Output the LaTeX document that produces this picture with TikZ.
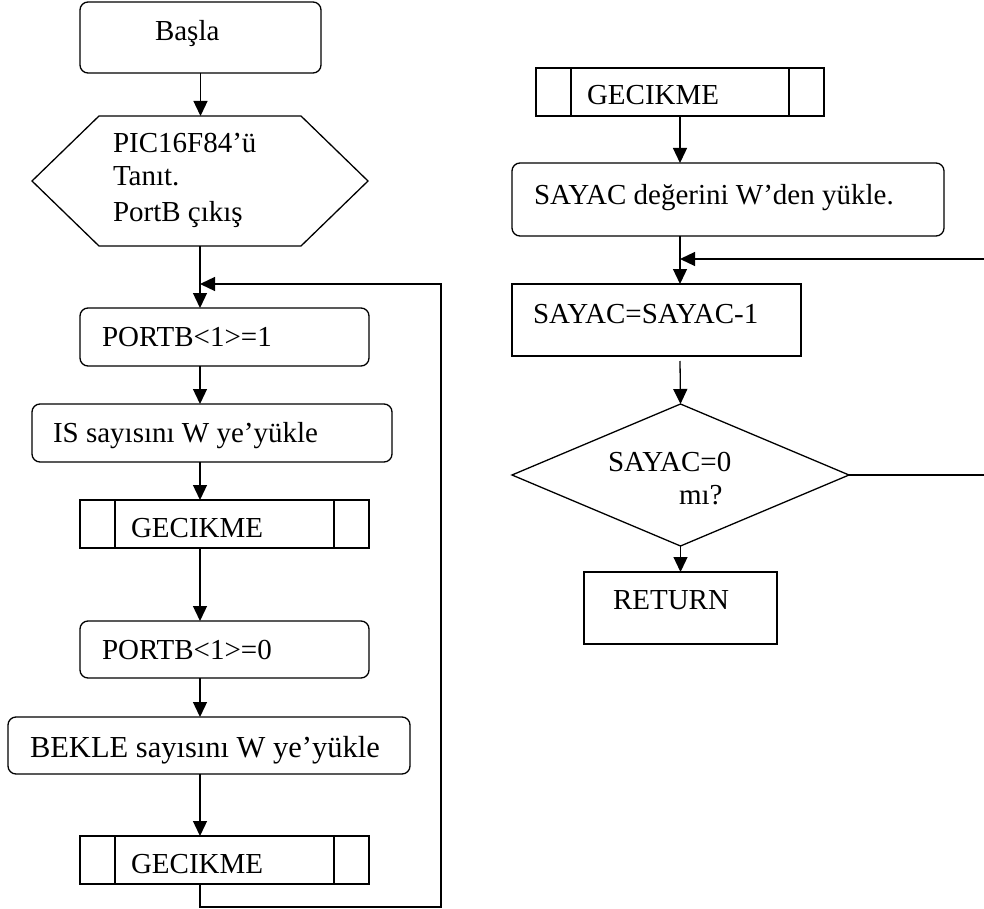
\documentclass[tikz,border=0pt]{standalone}
\usepackage{fontspec}
\setmainfont{Liberation Serif}
\usetikzlibrary{arrows.meta,shapes.geometric}
\begin{document}
\begin{tikzpicture}[x=1pt,y=-1pt,
  line width=1.3pt,
  every node/.style={inner sep=0pt, outer sep=0pt},
  rbox/.style={draw, rectangle, rounded corners=8pt},
  sbox/.style={draw, rectangle},
  lbl/.style={anchor=base west, font=\fontsize{29}{34}\selectfont},
  arr/.style={-{Triangle[length=15pt,width=14pt]}}
]
\useasboundingbox (0,0) rectangle (984,909);

% ---------- main program ----------
\node[rbox, minimum width=241pt, minimum height=71pt] (basla) at (200.5,37.5) {};
\node[minimum width=336pt, minimum height=130pt] (hex) at (200,181) {};
\draw (hex.west) -- ([xshift=67pt]hex.north west) -- ([xshift=-67pt]hex.north east)
  -- (hex.east) -- ([xshift=-67pt]hex.south east) -- ([xshift=67pt]hex.south west) -- cycle;
\node[rbox, minimum width=289pt, minimum height=58pt] (p1) at (224.5,337) {};
\node[rbox, minimum width=360pt, minimum height=58pt] (is) at (212,433) {};
\node[sbox, minimum width=289pt, minimum height=48pt] (g1) at (224.5,524) {};
\node[rbox, minimum width=289pt, minimum height=57pt] (p0) at (224.5,649.5) {};
\node[rbox, minimum width=402pt, minimum height=57pt] (bekle) at (209,745.5) {};
\node[sbox, minimum width=289pt, minimum height=48pt] (g2) at (224.5,860) {};

% ---------- delay subroutine ----------
\node[sbox, minimum width=288pt, minimum height=48pt] (g3) at (680,92) {};
\node[rbox, minimum width=432pt, minimum height=73pt] (sayac) at (728,199.5) {};
\node[sbox, minimum width=289pt, minimum height=72pt] (dec) at (656.5,320) {};
\node[draw, diamond, minimum width=337pt, minimum height=142pt] (dia) at (680.5,475) {};
\node[sbox, minimum width=193pt, minimum height=72pt] (ret) at (680.5,608) {};

% side bars of the subroutine boxes
\foreach \g in {g1,g2,g3}{
  \draw ([xshift=35pt]\g.north west) -- ([xshift=35pt]\g.south west);
  \draw ([xshift=-35pt]\g.north east) -- ([xshift=-35pt]\g.south east);
}

% ---------- labels ----------
\node[lbl] (tb) at (155,41) {Başla};
\node[lbl] (th1) at (113,153) {PIC16F84’ü};
\node[lbl] (th2) at (113,186) {Tanıt.};
\node[lbl] (th3) at (113,222) {PortB çıkış};
\node[lbl] (tp1) at (102,346) {PORTB<1>=1};
\node[lbl] (tis) at (53,442) {IS sayısını W ye’yükle};
\node[lbl] (tg1) at (131,537) {GECIKME};
\node[lbl] (tp0) at (102,659) {PORTB<1>=0};
\node[lbl, font=\fontsize{30.5}{35}\selectfont] (tbk) at (30,757) {BEKLE sayısını W ye’yükle};
\node[lbl] (tg2) at (131,873) {GECIKME};
\node[lbl] (tg3) at (587,105) {GECIKME};
\node[lbl] (ts) at (534,205) {SAYAC değerini W’den yükle.};
\node[lbl] (td) at (533,323) {SAYAC=SAYAC-1};
\node[lbl] (tq1) at (608,471) {SAYAC=0};
\node[lbl] (tq2) at (679,504) {mı?};
\node[lbl] (tr) at (613,609) {RETURN};

% ---------- connectors ----------
\coordinate (ljoin) at (200,284);
\coordinate (lloop) at (441,907);
\draw[arr] (basla.south) -- (basla.south |- hex.north);
\draw[arr] (hex.south) -- (hex.south |- p1.north);
\draw[arr] (hex.south |- p1.south) -- (hex.south |- is.north);
\draw[arr] (hex.south |- is.south) -- (hex.south |- g1.north);
\draw[arr] (hex.south |- g1.south) -- (hex.south |- p0.north);
\draw[arr] (hex.south |- p0.south) -- (hex.south |- bekle.north);
\draw[arr] (hex.south |- bekle.south) -- (hex.south |- g2.north);
\draw[arr] (hex.south |- g2.south) |- (lloop) |- (ljoin);

\coordinate (rloop) at (986,259);
\draw[arr] (g3.south) -- (g3.south |- sayac.north);
\draw[arr] (g3.south |- sayac.south) -- (g3.south |- dec.north);
\draw[arr] ([yshift=-5pt]g3.south |- dec.south) -- (dia.north);
\draw[arr] (dia.south) -- (dia.south |- ret.north);
\draw[arr] (dia.east) -| (rloop) -- (g3.south |- rloop);
\end{tikzpicture}
\end{document}
